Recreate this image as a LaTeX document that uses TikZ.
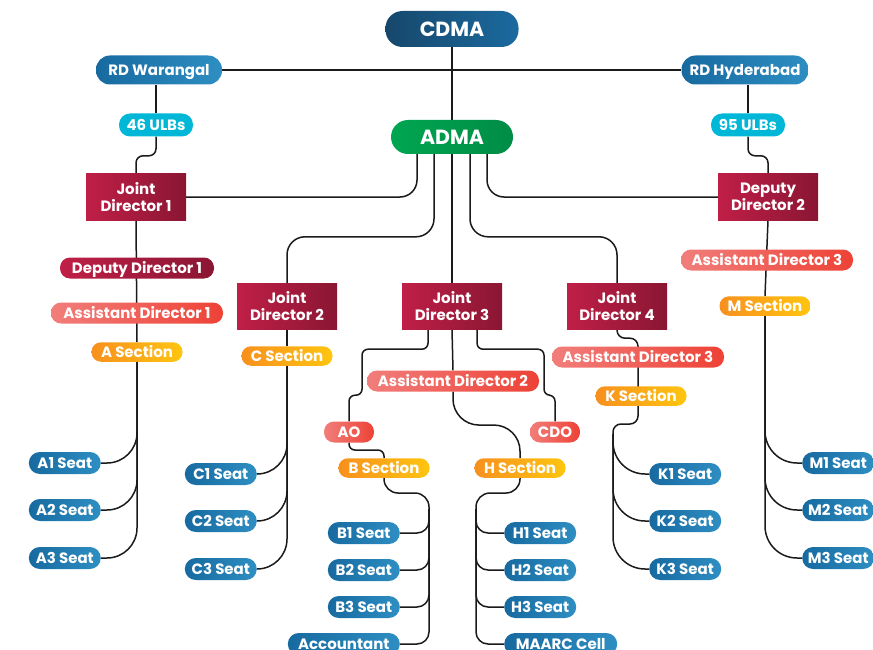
\documentclass[tikz,border=0pt]{standalone}
\usepackage{fontspec}
\setmainfont{Poppins}
\usetikzlibrary{calc,backgrounds}

\definecolor{cdmaL}{HTML}{17476B}
\definecolor{cdmaR}{HTML}{1B6A9F}
\definecolor{blueL}{HTML}{176AA0}
\definecolor{blueR}{HTML}{2E8EC2}
\definecolor{ulbcol}{HTML}{00B7D7}
\definecolor{greenL}{HTML}{00A651}
\definecolor{greenR}{HTML}{008C45}
\definecolor{redL}{HTML}{C01F47}
\definecolor{redR}{HTML}{8A1633}
\definecolor{salmonL}{HTML}{F17E7B}
\definecolor{salmonR}{HTML}{EE4236}
\definecolor{orangeL}{HTML}{F7901E}
\definecolor{orangeR}{HTML}{FFC50F}
\definecolor{wirecol}{HTML}{1A1A1A}

\tikzset{
  pill/.style={rounded corners=10pt, text=white, inner xsep=0pt, inner ysep=0pt,
    font=\bfseries\fontsize{15}{17}\selectfont, minimum height=21pt,
    text height=10.5pt, text depth=0pt},
  topbox/.style={pill, rounded corners=17pt, font=\bfseries\fontsize{20.5}{23}\selectfont,
    text height=14.5pt},
  rdbox/.style={pill, rounded corners=14pt, left color=blueL, right color=blueR,
    minimum width=126pt, minimum height=29pt},
  ulbbox/.style={pill, rounded corners=11pt, fill=ulbcol, minimum width=74pt, minimum height=23pt},
  jdbox/.style={rectangle, text=white, left color=redL, right color=redR, align=center,
    font=\bfseries\fontsize{15}{17.5}\selectfont, minimum width=100pt, minimum height=46pt,
    inner sep=0pt},
  ddbox/.style={pill, left color=redL, right color=redR, minimum width=154pt},
  adbox/.style={pill, left color=salmonL, right color=salmonR, minimum width=172pt},
  secbox/.style={pill, rounded corners=9.5pt, left color=orangeL, right color=orangeR,
    minimum width=91pt, minimum height=19.5pt},
  seat/.style={pill, rounded corners=11pt, left color=blueL, right color=blueR,
    minimum width=72pt, minimum height=22pt},
  wires/.style={draw=wirecol, line width=1.5pt}
}

\begin{document}
\begin{tikzpicture}[x=1pt, y=-1pt]
  \useasboundingbox (0,0) rectangle (873,650);

  \node[topbox, left color=cdmaL, right color=cdmaR, minimum width=133pt, minimum height=36pt] (cdma) at (452,29) {CDMA};
  \node[topbox, left color=greenL, right color=greenR, minimum width=122pt, minimum height=34pt] (adma) at (452,137) {ADMA};
  \node[rdbox] (rdw) at (159,70) {RD Warangal};
  \node[rdbox, minimum width=127pt] (rdh) at (745,70) {RD Hyderabad};
  \node[ulbbox] (ulb46) at (156,125) {46 ULBs};
  \node[ulbbox] (ulb95) at (748,125) {95 ULBs};

  \node[jdbox] (jd1) at (136,197) {Joint\\Director 1};
  \node[jdbox] (dd2) at (768,197) {Deputy\\Director 2};
  \node[jdbox] (jd2) at (287,306) {Joint\\Director 2};
  \node[jdbox] (jd3) at (452,306) {Joint\\Director 3};
  \node[jdbox] (jd4) at (617,306) {Joint\\Director 4};

  \node[ddbox] (dd1) at (137,268) {Deputy Director 1};
  \node[adbox] (ad1) at (137,313) {Assistant Director 1};
  \node[secbox] (asec) at (137,352) {A Section};
  \node[secbox] (csec) at (287,356) {C Section};
  \node[adbox] (ad2) at (453,381) {Assistant Director 2};
  \node[adbox, minimum width=50pt] (ao) at (349,432) {AO};
  \node[adbox, minimum width=50pt] (cdo) at (555,432) {CDO};
  \node[secbox] (bsec) at (384,468) {B Section};
  \node[secbox] (hsec) at (520,468) {H Section};
  \node[adbox] (ad3b) at (638,357) {Assistant Director 3};
  \node[secbox] (ksec) at (641,396) {K Section};
  \node[adbox] (ad3a) at (767,260) {Assistant Director 3};
  \node[secbox] (msec) at (765,306) {M Section};

  \node[seat, anchor=east] (a1) at (101,463) {A1 Seat};
  \node[seat, anchor=east] (a2) at (101,510) {A2 Seat};
  \node[seat, anchor=east] (a3) at (101,558) {A3 Seat};
  \node[seat, anchor=east] (c1) at (257,474) {C1 Seat};
  \node[seat, anchor=east] (c2) at (257,521) {C2 Seat};
  \node[seat, anchor=east] (c3) at (257,569) {C3 Seat};
  \node[seat, anchor=east] (b1) at (400,533) {B1 Seat};
  \node[seat, anchor=east] (b2) at (400,570) {B2 Seat};
  \node[seat, anchor=east] (b3) at (400,607) {B3 Seat};
  \node[seat, anchor=east, minimum width=112pt] (acc) at (400,644) {Accountant};
  \node[seat, anchor=west] (h1) at (504,533) {H1 Seat};
  \node[seat, anchor=west] (h2) at (504,570) {H2 Seat};
  \node[seat, anchor=west] (h3) at (504,607) {H3 Seat};
  \node[seat, anchor=west, minimum width=113pt] (maarc) at (504,644) {MAARC Cell};
  \node[seat, anchor=west] (k1) at (649,474) {K1 Seat};
  \node[seat, anchor=west] (k2) at (649,521) {K2 Seat};
  \node[seat, anchor=west] (k3) at (649,569) {K3 Seat};
  \node[seat, anchor=west] (m1) at (802,463) {M1 Seat};
  \node[seat, anchor=west] (m2) at (802,510) {M2 Seat};
  \node[seat, anchor=west] (m3) at (802,558) {M3 Seat};

  \coordinate (bj) at (429,493);
  \coordinate (hj) at (476,493);
  \coordinate (kj) at (613,424);

  \begin{scope}[on background layer]
  \begin{scope}[wires]
    % top
    \draw (cdma) to (adma);
    \draw (rdw) to (rdh);
    \draw (ulb46.north) to (ulb46.north |- rdw.south);
    \draw (ulb95.north) to (ulb95.north |- rdh.south);
    \draw[rounded corners=7] (ulb46.south) |- ([yshift=18]jd1.north) -- (jd1.north);
    \draw[rounded corners=7] (ulb95.south) |- ([yshift=18]dd2.north) -- (dd2.north);
    % adma
    \draw[rounded corners=17] ([xshift=-35]adma.south) |- (jd1.east);
    \draw[rounded corners=17] ([xshift=35]adma.south) |- (dd2.west);
    \draw[rounded corners=18] ([xshift=-18]adma.south) |- ([yshift=46]jd2.north) -- (jd2.north);
    \draw[rounded corners=18] ([xshift=18]adma.south) |- ([yshift=46]jd4.north) -- (jd4.north);
    \draw (adma) to (jd3);
    % A column
    \draw (jd1.south) to (asec.north);
    \draw[rounded corners=30] (asec.south) |- (a1.east);
    \draw[rounded corners=30] (asec.south) |- (a2.east);
    \draw[rounded corners=30] (asec.south) |- (a3.east);
    % C column
    \draw (jd2.south) to (csec.north);
    \draw[rounded corners=30] (csec.south) |- (c1.east);
    \draw[rounded corners=30] (csec.south) |- (c2.east);
    \draw[rounded corners=30] (csec.south) |- (c3.east);
    % JD3
    \draw[rounded corners=6] ([xshift=-24]jd3.south) |- ++(-66,20) -- ++(0,46) -| (ao.north);
    \draw[rounded corners=6] ([xshift=25]jd3.south) |- ++(67,20) -- ++(0,46) -| (cdo.north);
    \draw (jd3.south) to (ad2.north);
    \draw[rounded corners=26] (ad2.south) |- ([yshift=33]hsec.north) -- (hsec.north);
    \draw[rounded corners=6] (ao.south) |- ([yshift=8]bsec.north) -- (bsec.north);
    \draw[rounded corners=14] (bsec.south) |- (bj) -- ([yshift=-16]bj);
    \draw[rounded corners=12] ([yshift=-16]bj) |- (b1.east);
    \draw[rounded corners=12] ([yshift=-16]bj) |- (b2.east);
    \draw[rounded corners=12] ([yshift=-16]bj) |- (b3.east);
    \draw[rounded corners=12] ([yshift=-16]bj) |- (acc.east);
    \draw[rounded corners=14] (hsec.south) |- (hj) -- ([yshift=-16]hj);
    \draw[rounded corners=12] ([yshift=-16]hj) |- (h1.west);
    \draw[rounded corners=12] ([yshift=-16]hj) |- (h2.west);
    \draw[rounded corners=12] ([yshift=-16]hj) |- (h3.west);
    \draw[rounded corners=12] ([yshift=-16]hj) |- (maarc.west);
    % JD4
    \draw[rounded corners=8] (jd4.south) |- ++(21,9) |- (kj) -- ([yshift=-10]kj);
    \draw[rounded corners=32] ([yshift=-10]kj) |- (k1.west);
    \draw[rounded corners=32] ([yshift=-10]kj) |- (k2.west);
    \draw[rounded corners=32] ([yshift=-10]kj) |- (k3.west);
    % DD2
    \draw (dd2.south) to (msec.north);
    \draw[rounded corners=32] (msec.south) |- (m1.west);
    \draw[rounded corners=32] (msec.south) |- (m2.west);
    \draw[rounded corners=32] (msec.south) |- (m3.west);
  \end{scope}
  \end{scope}
\end{tikzpicture}
\end{document}
